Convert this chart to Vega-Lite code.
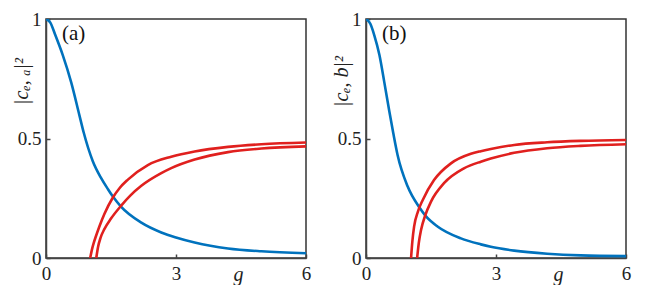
{
  "$schema": "https://vega.github.io/schema/vega-lite/v6.json",
  "padding": {"left": 10, "top": 9, "right": 5, "bottom": 0},
  "background": "white",
  "bounds": "flush",
  "spacing": 60,
  "datasets": {
    "curves": [
      {"panel": "a", "series": "blue", "g": 0, "v": 1},
      {"panel": "a", "series": "blue", "g": 0.1, "v": 0.985},
      {"panel": "a", "series": "blue", "g": 0.21, "v": 0.935},
      {"panel": "a", "series": "blue", "g": 0.385, "v": 0.85},
      {"panel": "a", "series": "blue", "g": 0.58, "v": 0.736},
      {"panel": "a", "series": "blue", "g": 0.77, "v": 0.598},
      {"panel": "a", "series": "blue", "g": 0.87, "v": 0.525},
      {"panel": "a", "series": "blue", "g": 1.08, "v": 0.405},
      {"panel": "a", "series": "blue", "g": 1.27, "v": 0.335},
      {"panel": "a", "series": "blue", "g": 1.43, "v": 0.288},
      {"panel": "a", "series": "blue", "g": 1.54, "v": 0.258},
      {"panel": "a", "series": "blue", "g": 1.73, "v": 0.215},
      {"panel": "a", "series": "blue", "g": 2.2, "v": 0.148},
      {"panel": "a", "series": "blue", "g": 2.66, "v": 0.107},
      {"panel": "a", "series": "blue", "g": 3.0, "v": 0.086},
      {"panel": "a", "series": "blue", "g": 3.43, "v": 0.065},
      {"panel": "a", "series": "blue", "g": 4.2, "v": 0.04},
      {"panel": "a", "series": "blue", "g": 4.97, "v": 0.028},
      {"panel": "a", "series": "blue", "g": 6, "v": 0.02},
      {"panel": "a", "series": "red1", "g": 1.02, "v": 0},
      {"panel": "a", "series": "red1", "g": 1.06, "v": 0.035},
      {"panel": "a", "series": "red1", "g": 1.1, "v": 0.062},
      {"panel": "a", "series": "red1", "g": 1.15, "v": 0.09},
      {"panel": "a", "series": "red1", "g": 1.23, "v": 0.131},
      {"panel": "a", "series": "red1", "g": 1.35, "v": 0.185},
      {"panel": "a", "series": "red1", "g": 1.54, "v": 0.252},
      {"panel": "a", "series": "red1", "g": 1.7, "v": 0.293},
      {"panel": "a", "series": "red1", "g": 1.89, "v": 0.328},
      {"panel": "a", "series": "red1", "g": 2.35, "v": 0.389},
      {"panel": "a", "series": "red1", "g": 2.89, "v": 0.424},
      {"panel": "a", "series": "red1", "g": 3.43, "v": 0.446},
      {"panel": "a", "series": "red1", "g": 4.2, "v": 0.465},
      {"panel": "a", "series": "red1", "g": 4.97, "v": 0.476},
      {"panel": "a", "series": "red1", "g": 6, "v": 0.483},
      {"panel": "a", "series": "red2", "g": 1.16, "v": 0},
      {"panel": "a", "series": "red2", "g": 1.2, "v": 0.045},
      {"panel": "a", "series": "red2", "g": 1.26, "v": 0.085},
      {"panel": "a", "series": "red2", "g": 1.35, "v": 0.122},
      {"panel": "a", "series": "red2", "g": 1.5, "v": 0.165},
      {"panel": "a", "series": "red2", "g": 1.73, "v": 0.218},
      {"panel": "a", "series": "red2", "g": 1.95, "v": 0.262},
      {"panel": "a", "series": "red2", "g": 2.2, "v": 0.302},
      {"panel": "a", "series": "red2", "g": 2.66, "v": 0.355},
      {"panel": "a", "series": "red2", "g": 2.89, "v": 0.376},
      {"panel": "a", "series": "red2", "g": 3.43, "v": 0.412},
      {"panel": "a", "series": "red2", "g": 4.2, "v": 0.443},
      {"panel": "a", "series": "red2", "g": 4.97, "v": 0.458},
      {"panel": "a", "series": "red2", "g": 6, "v": 0.467},
      {"panel": "b", "series": "blue", "g": 0, "v": 1},
      {"panel": "b", "series": "blue", "g": 0.1, "v": 0.98},
      {"panel": "b", "series": "blue", "g": 0.19, "v": 0.933},
      {"panel": "b", "series": "blue", "g": 0.31, "v": 0.849},
      {"panel": "b", "series": "blue", "g": 0.42, "v": 0.738},
      {"panel": "b", "series": "blue", "g": 0.54, "v": 0.612},
      {"panel": "b", "series": "blue", "g": 0.63, "v": 0.522},
      {"panel": "b", "series": "blue", "g": 0.73, "v": 0.43},
      {"panel": "b", "series": "blue", "g": 0.96, "v": 0.3},
      {"panel": "b", "series": "blue", "g": 1.23, "v": 0.212},
      {"panel": "b", "series": "blue", "g": 1.38, "v": 0.175},
      {"panel": "b", "series": "blue", "g": 1.65, "v": 0.132},
      {"panel": "b", "series": "blue", "g": 2.19, "v": 0.082},
      {"panel": "b", "series": "blue", "g": 2.65, "v": 0.057},
      {"panel": "b", "series": "blue", "g": 2.88, "v": 0.047},
      {"panel": "b", "series": "blue", "g": 3.42, "v": 0.031},
      {"panel": "b", "series": "blue", "g": 4.18, "v": 0.018},
      {"panel": "b", "series": "blue", "g": 4.95, "v": 0.011},
      {"panel": "b", "series": "blue", "g": 6, "v": 0.008},
      {"panel": "b", "series": "red1", "g": 1.04, "v": 0},
      {"panel": "b", "series": "red1", "g": 1.07, "v": 0.07},
      {"panel": "b", "series": "red1", "g": 1.11, "v": 0.131},
      {"panel": "b", "series": "red1", "g": 1.2, "v": 0.195},
      {"panel": "b", "series": "red1", "g": 1.31, "v": 0.243},
      {"panel": "b", "series": "red1", "g": 1.57, "v": 0.326},
      {"panel": "b", "series": "red1", "g": 1.96, "v": 0.396},
      {"panel": "b", "series": "red1", "g": 2.42, "v": 0.436},
      {"panel": "b", "series": "red1", "g": 2.65, "v": 0.447},
      {"panel": "b", "series": "red1", "g": 2.88, "v": 0.456},
      {"panel": "b", "series": "red1", "g": 3.42, "v": 0.473},
      {"panel": "b", "series": "red1", "g": 4.18, "v": 0.484},
      {"panel": "b", "series": "red1", "g": 4.95, "v": 0.49},
      {"panel": "b", "series": "red1", "g": 6, "v": 0.494},
      {"panel": "b", "series": "red2", "g": 1.18, "v": 0},
      {"panel": "b", "series": "red2", "g": 1.22, "v": 0.065},
      {"panel": "b", "series": "red2", "g": 1.27, "v": 0.117},
      {"panel": "b", "series": "red2", "g": 1.37, "v": 0.18},
      {"panel": "b", "series": "red2", "g": 1.5, "v": 0.236},
      {"panel": "b", "series": "red2", "g": 1.8, "v": 0.313},
      {"panel": "b", "series": "red2", "g": 2.26, "v": 0.375},
      {"panel": "b", "series": "red2", "g": 2.65, "v": 0.403},
      {"panel": "b", "series": "red2", "g": 2.88, "v": 0.416},
      {"panel": "b", "series": "red2", "g": 3.42, "v": 0.44},
      {"panel": "b", "series": "red2", "g": 4.18, "v": 0.459},
      {"panel": "b", "series": "red2", "g": 4.95, "v": 0.469},
      {"panel": "b", "series": "red2", "g": 6, "v": 0.476}
    ],
    "labels": [
      {"panel": "a", "g": 0.37, "v": 0.985, "text": "(a)"},
      {"panel": "b", "g": 0.37, "v": 0.985, "text": "(b)"}
    ]
  },
  "config": {
    "view": {"stroke": "#333333", "strokeWidth": 1.5},
    "axis": {
      "grid": false,
      "labelFont": "Liberation Serif, Times New Roman, serif",
      "labelFontSize": 19,
      "labelColor": "#222222",
      "labelExpr": "datum.value",
      "domainColor": "#444444",
      "domainWidth": 1.5,
      "tickColor": "#444444",
      "tickWidth": 1.5,
      "tickSize": -4,
      "titleFont": "Liberation Serif, Times New Roman, serif",
      "titleFontSize": 20,
      "titleFontWeight": "normal",
      "titleFontStyle": "italic",
      "titleColor": "#222222"
    }
  },
  "hconcat": [
    {
      "width": 260,
      "height": 239,
      "layer": [
        {
          "data": {"name": "curves"},
          "transform": [{"filter": "datum.panel === 'a'"}],
          "mark": {"type": "line", "strokeWidth": 2.6, "interpolate": "monotone", "clip": true},
          "encoding": {
            "x": {"field": "g", "type": "quantitative", "scale": {"domain": [0, 6], "nice": false},
              "axis": {"values": [0, 3, 6], "labelPadding": 10, "labelFlush": false, "title": "g", "titleX": 192, "titleY": 22, "titleBaseline": "alphabetic", "titleAnchor": "start", "titleAlign": "center"}},
            "y": {"field": "v", "type": "quantitative", "scale": {"domain": [0, 1], "nice": false},
              "axis": {"values": [0, 0.5, 1], "labelPadding": 9, "labelFlush": false, "title": "|cₑ, ₐ|²", "titleX": -25, "titleY": 62, "titleAlign": "center", "titleBaseline": "middle"}},
            "color": {"field": "series", "type": "nominal", "scale": {"domain": ["blue", "red1", "red2"], "range": ["#0072BD", "#E0201E", "#E0201E"]}, "legend": null},
            "detail": {"field": "series"}
          }
        },
        {
          "data": {"name": "labels"},
          "transform": [{"filter": "datum.panel === 'a'"}],
          "mark": {"type": "text", "align": "left", "baseline": "top", "font": "Liberation Serif, Times New Roman, serif", "fontSize": 21, "color": "#111111"},
          "encoding": {
            "x": {"field": "g", "type": "quantitative"},
            "y": {"field": "v", "type": "quantitative"},
            "text": {"field": "text"}
          }
        }
      ]
    },
    {
      "width": 260,
      "height": 239,
      "layer": [
        {
          "data": {"name": "curves"},
          "transform": [{"filter": "datum.panel === 'b'"}],
          "mark": {"type": "line", "strokeWidth": 2.6, "interpolate": "monotone", "clip": true},
          "encoding": {
            "x": {"field": "g", "type": "quantitative", "scale": {"domain": [0, 6], "nice": false},
              "axis": {"values": [0, 3, 6], "labelPadding": 10, "labelFlush": false, "title": "g", "titleX": 192, "titleY": 22, "titleBaseline": "alphabetic", "titleAnchor": "start", "titleAlign": "center"}},
            "y": {"field": "v", "type": "quantitative", "scale": {"domain": [0, 1], "nice": false},
              "axis": {"values": [0, 0.5, 1], "labelPadding": 9, "labelFlush": false, "title": "|cₑ, b|²", "titleX": -25, "titleY": 62, "titleAlign": "center", "titleBaseline": "middle"}},
            "color": {"field": "series", "type": "nominal", "scale": {"domain": ["blue", "red1", "red2"], "range": ["#0072BD", "#E0201E", "#E0201E"]}, "legend": null},
            "detail": {"field": "series"}
          }
        },
        {
          "data": {"name": "labels"},
          "transform": [{"filter": "datum.panel === 'b'"}],
          "mark": {"type": "text", "align": "left", "baseline": "top", "font": "Liberation Serif, Times New Roman, serif", "fontSize": 21, "color": "#111111"},
          "encoding": {
            "x": {"field": "g", "type": "quantitative"},
            "y": {"field": "v", "type": "quantitative"},
            "text": {"field": "text"}
          }
        }
      ]
    }
  ]
}
